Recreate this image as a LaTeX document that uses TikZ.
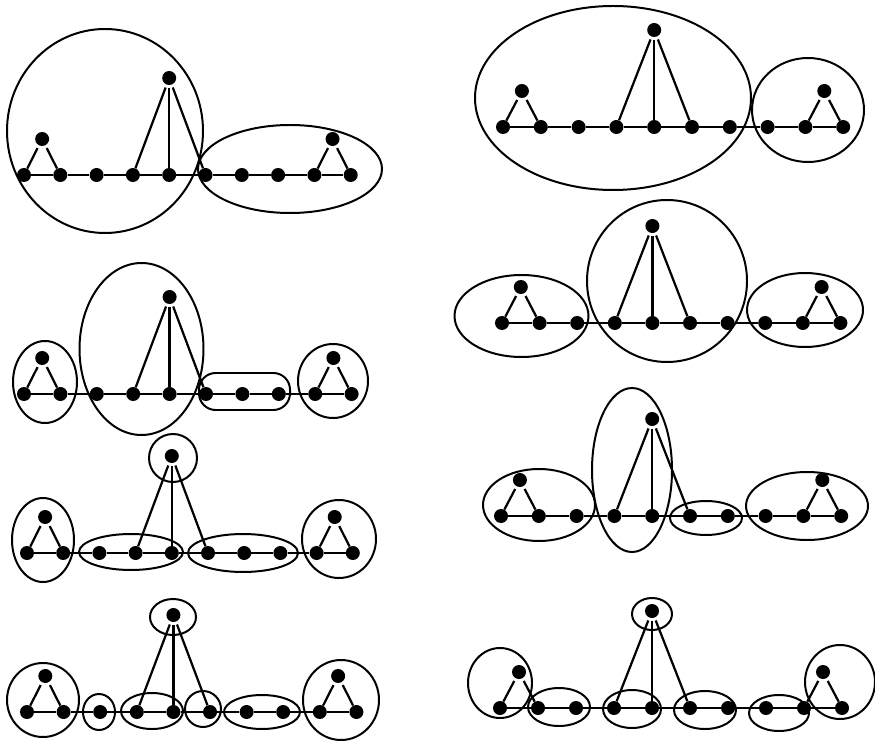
\documentclass[tikz,border=0pt]{standalone}
\usetikzlibrary{calc}
\tikzset{
  vtx/.style  ={circle,fill=black,inner sep=0pt,minimum size=0.42cm},
  link/.style ={line width=1.9pt},
  spoke/.style={link,shorten <=2.5pt},
  blob/.style ={line width=1.7pt},
}
% #1 name, #2 x of first vertex, #3 baseline, #4 spacing
\newcommand{\chaingraph}[4]{%
  \foreach \i in {1,...,10}
    \node[vtx] (#1-\i) at ({#2+(\i-1)*#4},#3) {};
  \node[vtx] (#1-l) at ({#2+0.5*#4},{#3-36}) {};
  \node[vtx] (#1-t) at ({#2+4*#4},{#3-97}) {};
  \node[vtx] (#1-r) at ({#2+8.5*#4},{#3-36}) {};
  \foreach \i [evaluate=\i as \j using int(\i+1)] in {1,...,9}
    \draw[link] (#1-\i) -- (#1-\j);
  \foreach \k in {1,2} \draw[spoke] (#1-l) -- (#1-\k);
  \foreach \k in {4,5,6} \draw[spoke] (#1-t) -- (#1-\k);
  \foreach \k in {9,10} \draw[spoke] (#1-r) -- (#1-\k);
}
\begin{document}
\begin{tikzpicture}[x=0.03cm,y=-0.03cm]
\useasboundingbox (0,0) rectangle (875,741);

% row 1
\chaingraph{A}{24}{175}{36.3}
\draw[blob] (105,131) ellipse [x radius=98, y radius=102];
\draw[blob] (290,169) ellipse [x radius=92, y radius=44];

\chaingraph{B}{503}{127}{37.8}
\draw[blob] (613,98) ellipse [x radius=138, y radius=92];
\draw[blob] (808,110) ellipse [x radius=56, y radius=52];

% row 2
\chaingraph{C}{24}{394}{36.4}
\draw[blob] (45,382) ellipse [x radius=32, y radius=41];
\draw[blob] (141.5,349) ellipse [x radius=62, y radius=86];
\draw[blob,rounded corners=0.5cm] (199,373) rectangle (290,410);
\draw[blob] (333,381) ellipse [x radius=35, y radius=37];

\chaingraph{D}{502}{323}{37.6}
\draw[blob] (521.5,316) ellipse [x radius=67, y radius=41];
\draw[blob] (667,281) ellipse [x radius=80, y radius=81];
\draw[blob] (805,310) ellipse [x radius=58, y radius=37];

% row 3
\chaingraph{E}{27}{553}{36.2}
\draw[blob] (43,540) ellipse [x radius=31, y radius=42];
\draw[blob] (173,458) ellipse [x radius=24, y radius=24];
\draw[blob] (131,552) ellipse [x radius=52, y radius=18];
\draw[blob] (243,553) ellipse [x radius=55, y radius=19];
\draw[blob] (339,539) ellipse [x radius=37, y radius=39];

\chaingraph{F}{501}{516}{37.8}
\draw[blob] (539,505) ellipse [x radius=56, y radius=36];
\draw[blob] (632,470) ellipse [x radius=40, y radius=82];
\draw[blob] (706,518) ellipse [x radius=36, y radius=17];
\draw[blob] (807,506) ellipse [x radius=61, y radius=34];

% row 4
\chaingraph{G}{27}{712}{36.6}
\draw[blob] (43,700) ellipse [x radius=36, y radius=37];
\draw[blob] (99,712) ellipse [x radius=16, y radius=18];
\draw[blob] (152,711) ellipse [x radius=31, y radius=18];
\draw[blob] (203,709) ellipse [x radius=18, y radius=18];
\draw[blob] (262,712) ellipse [x radius=38, y radius=17];
\draw[blob] (341,700) ellipse [x radius=38, y radius=40];
\draw[blob] (173,617) ellipse [x radius=23, y radius=18];

\chaingraph{H}{500}{708}{38}
\draw[blob] (652,614) ellipse [x radius=20, y radius=16];
\draw[blob] (500,683) ellipse [x radius=32, y radius=35];
\draw[blob] (559,707) ellipse [x radius=31, y radius=19];
\draw[blob] (632,709) ellipse [x radius=29, y radius=19];
\draw[blob] (705,710) ellipse [x radius=31, y radius=19];
\draw[blob] (779,713) ellipse [x radius=30, y radius=18];
\draw[blob] (840,682) ellipse [x radius=35, y radius=37];
\end{tikzpicture}
\end{document}
